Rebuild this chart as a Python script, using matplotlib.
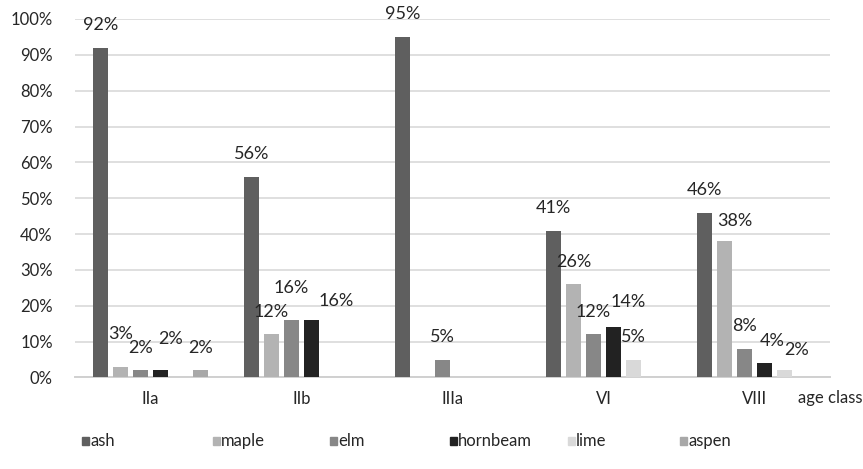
import numpy as np
import matplotlib.pyplot as plt
from matplotlib.patches import Rectangle

# ---------------------------------------------------------
# Data (share of species per age class, %)
# ---------------------------------------------------------
age_classes = ['IIa', 'IIb', 'IIIa', 'VI', 'VIII']
species = ['ash', 'maple', 'elm', 'hornbeam', 'lime', 'aspen']

ash = [92, 56, 95, 41, 46]
maple = [3, 12, np.nan, 26, 38]
elm = [2, 16, 5, 12, 8]
hornbeam = [2, 16, np.nan, 14, 4]
lime = [np.nan, np.nan, np.nan, 5, 2]
aspen = [2, np.nan, np.nan, np.nan, np.nan]

series = [ash, maple, elm, hornbeam, lime, aspen]
colors = ['#5f5f5f', '#b3b3b3', '#878787', '#222222', '#d9d9d9', '#a8a8a8']

# label nudges in pixels (dx, dy) where Excel moved labels to avoid overlap
nudge = {
    (0, 1): (0, 10), (0, 3): (10, 9),
    (1, 2): (0, 10), (1, 3): (25, -3),
    (3, 3): (15, 3),
    (4, 1): (10, -2), (4, 3): (8, 0), (4, 4): (12, -2),
}

# ---------------------------------------------------------
# Plot
# ---------------------------------------------------------
plt.rcParams['font.family'] = ['Lato', 'DejaVu Sans']

fig = plt.figure(figsize=(8.63, 4.69), dpi=100)
ax = fig.add_axes([0.0869, 0.1951, 0.8749, 0.7644])

x = np.arange(len(age_classes))
slot = 0.1325
width = 0.103

for j, (vals, c) in enumerate(zip(series, colors)):
    pos = x + (j - 2.5) * slot
    ax.bar(pos, np.nan_to_num(vals), width=width, color=c, zorder=3)
    for i, v in enumerate(vals):
        if np.isnan(v):
            continue
        dx, dy = nudge.get((i, j), (0, 0))
        ax.annotate(f'{v:.0f}%', xy=(pos[i], v), xytext=(dx, 22.5 + dy),
                    textcoords='offset pixels', ha='center', va='center',
                    fontsize=13, color='#262626', zorder=4)

ax.set_xlim(-0.5, len(age_classes) - 0.5)
ax.set_ylim(0, 100)
ax.set_yticks(np.arange(0, 101, 10))
ax.set_yticklabels([f'{t}%' for t in range(0, 101, 10)])
ax.set_xticks(x)
ax.set_xticklabels(age_classes)
ax.tick_params(axis='both', length=0, labelsize=12, colors='#262626')
ax.tick_params(axis='y', pad=16)
ax.tick_params(axis='x', pad=10)

ax.grid(axis='y', color='#d9d9d9', linewidth=1.2, zorder=0)
for s in ['top', 'right', 'left']:
    ax.spines[s].set_visible(False)
ax.spines['bottom'].set_color('#d0d0d0')
ax.spines['bottom'].set_linewidth(1.4)

fig.text(0.999, 1 - 398 / 469, 'age class', ha='right', va='center',
         fontsize=12, color='#262626')

# Legend (Excel style, fixed positions)
leg_x = [82, 213, 330, 450, 568, 680]
leg_y = 1 - 441 / 469
for lx, name, c in zip(leg_x, species, colors):
    fig.patches.append(Rectangle((lx / 863, leg_y - 4 / 469), 7 / 863, 8 / 469,
                                 transform=fig.transFigure, color=c))
    fig.text((lx + 8) / 863, leg_y, name, ha='left', va='center',
             fontsize=12, color='#262626')

plt.savefig('out.png', dpi=100)
